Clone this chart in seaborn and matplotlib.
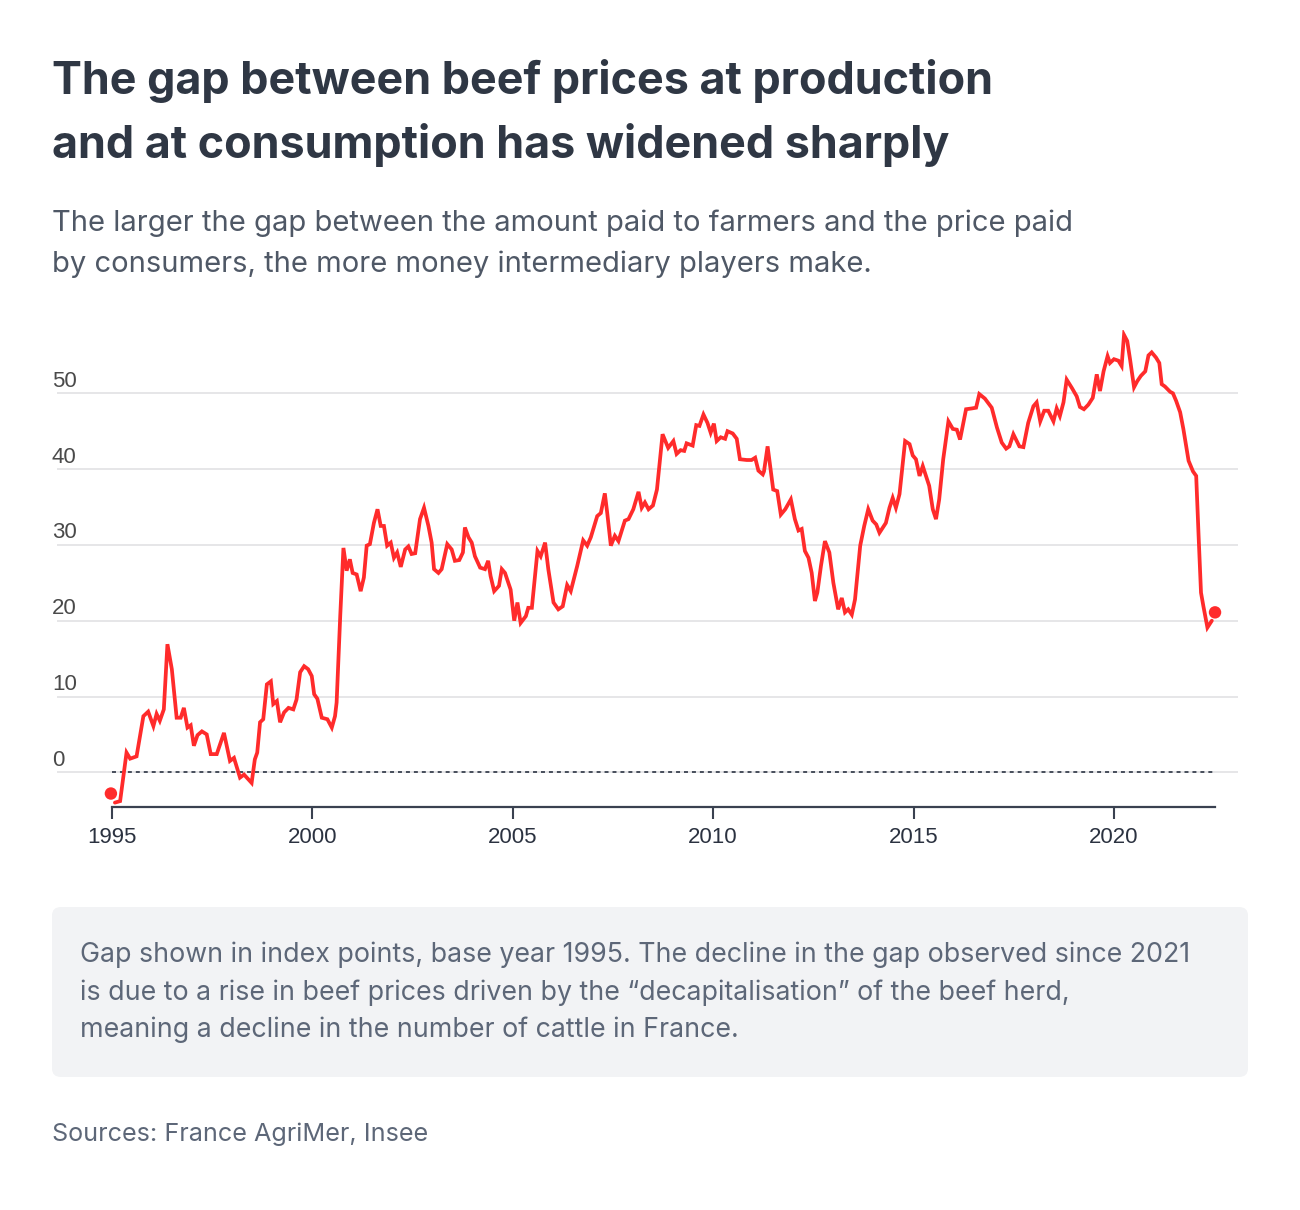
import numpy as np
import pandas as pd
import seaborn as sns
import matplotlib
matplotlib.use("Agg")
import matplotlib.pyplot as plt
from matplotlib.patches import FancyBboxPatch
from matplotlib.transforms import offset_copy

# ---------------- data ----------------
years = [
    1995.08, 1995.21, 1995.37, 1995.46, 1995.62, 1995.79, 1995.91, 1996.04, 1996.12, 1996.20,
    1996.30, 1996.39, 1996.50, 1996.62, 1996.72, 1996.80, 1996.89, 1996.97, 1997.05, 1997.14,
    1997.25, 1997.37, 1997.47, 1997.62, 1997.80, 1997.95, 1998.05, 1998.20, 1998.30, 1998.49,
    1998.57, 1998.63, 1998.70, 1998.78, 1998.87, 1998.97, 1999.03, 1999.12, 1999.20, 1999.30,
    1999.41, 1999.53, 1999.61, 1999.70, 1999.80, 1999.90, 1999.99, 2000.05, 2000.13, 2000.24,
    2000.38, 2000.49, 2000.57, 2000.61, 2000.70, 2000.78, 2000.86, 2000.94, 2001.01, 2001.11,
    2001.21, 2001.29, 2001.36, 2001.44, 2001.54, 2001.63, 2001.71, 2001.79, 2001.87, 2001.96,
    2002.04, 2002.12, 2002.21, 2002.32, 2002.40, 2002.48, 2002.57, 2002.69, 2002.79, 2002.90,
    2002.98, 2003.04, 2003.15, 2003.23, 2003.37, 2003.48, 2003.56, 2003.67, 2003.76, 2003.81,
    2003.90, 2003.98, 2004.06, 2004.19, 2004.31, 2004.39, 2004.45, 2004.54, 2004.66, 2004.73,
    2004.81, 2004.95, 2005.04, 2005.12, 2005.20, 2005.33, 2005.39, 2005.48, 2005.62, 2005.70,
    2005.81, 2005.89, 2006.02, 2006.14, 2006.25, 2006.36, 2006.45, 2006.61, 2006.76, 2006.86,
    2006.95, 2007.11, 2007.20, 2007.30, 2007.36, 2007.45, 2007.55, 2007.64, 2007.80, 2007.89,
    2008.01, 2008.14, 2008.22, 2008.30, 2008.39, 2008.50, 2008.60, 2008.66, 2008.74, 2008.88,
    2009.01, 2009.09, 2009.19, 2009.28, 2009.34, 2009.49, 2009.58, 2009.66, 2009.76, 2009.86,
    2009.94, 2010.02, 2010.09, 2010.19, 2010.30, 2010.36, 2010.49, 2010.59, 2010.67, 2010.84,
    2010.96, 2011.05, 2011.13, 2011.24, 2011.27, 2011.36, 2011.50, 2011.60, 2011.69, 2011.80,
    2011.94, 2012.04, 2012.13, 2012.21, 2012.29, 2012.38, 2012.46, 2012.54, 2012.60, 2012.69,
    2012.79, 2012.90, 2013.00, 2013.12, 2013.21, 2013.29, 2013.37, 2013.46, 2013.54, 2013.67,
    2013.77, 2013.87, 2013.98, 2014.07, 2014.15, 2014.31, 2014.40, 2014.48, 2014.56, 2014.65,
    2014.79, 2014.90, 2014.98, 2015.06, 2015.15, 2015.23, 2015.31, 2015.39, 2015.48, 2015.56,
    2015.64, 2015.74, 2015.87, 2015.98, 2016.08, 2016.16, 2016.31, 2016.45, 2016.56, 2016.64,
    2016.78, 2016.95, 2017.08, 2017.20, 2017.31, 2017.39, 2017.49, 2017.64, 2017.74, 2017.86,
    2017.99, 2018.07, 2018.16, 2018.26, 2018.36, 2018.49, 2018.57, 2018.65, 2018.74, 2018.82,
    2018.95, 2019.07, 2019.15, 2019.25, 2019.36, 2019.47, 2019.57, 2019.65, 2019.74, 2019.84,
    2019.90, 2020.00, 2020.11, 2020.19, 2020.25, 2020.33, 2020.40, 2020.50, 2020.58, 2020.67,
    2020.78, 2020.86, 2020.94, 2021.05, 2021.13, 2021.19, 2021.27, 2021.40, 2021.47, 2021.55,
    2021.65, 2021.73, 2021.86, 2021.97, 2022.05, 2022.11, 2022.17, 2022.23, 2022.33, 2022.44,
]
gap = [
    -4.0, -3.8, 2.6, 1.8, 2.1, 7.4, 8.0, 6.1, 7.7, 6.8,
    8.3, 16.9, 13.6, 7.2, 7.2, 8.5, 5.9, 6.2, 3.5, 4.9,
    5.4, 5.0, 2.4, 2.4, 5.2, 1.5, 1.9, -0.7, -0.3, -1.4,
    1.7, 2.6, 6.6, 7.0, 11.6, 12.0, 9.0, 9.4, 6.6, 7.9,
    8.5, 8.3, 9.6, 13.2, 14.0, 13.6, 12.7, 10.3, 9.7, 7.2,
    7.0, 5.9, 7.4, 9.2, 20.6, 29.6, 26.6, 28.1, 26.3, 26.1,
    23.9, 25.7, 29.9, 30.1, 32.9, 34.7, 32.5, 32.5, 29.9, 30.3,
    28.3, 29.0, 27.1, 29.4, 29.8, 28.8, 28.9, 33.4, 34.9, 32.5,
    30.3, 26.8, 26.3, 26.8, 30.1, 29.4, 27.9, 28.0, 29.0, 32.3,
    31.0, 30.3, 28.5, 27.0, 26.8, 27.9, 25.9, 23.9, 24.6, 26.8,
    26.3, 24.1, 20.0, 22.4, 19.7, 20.6, 21.7, 21.7, 29.2, 28.5,
    30.3, 26.8, 22.4, 21.5, 21.9, 24.7, 23.9, 27.2, 30.6, 29.9,
    31.0, 33.8, 34.2, 36.8, 34.2, 29.9, 31.2, 30.5, 33.2, 33.4,
    34.7, 37.0, 34.9, 35.6, 34.7, 35.2, 37.3, 40.4, 44.6, 42.8,
    43.7, 42.0, 42.5, 42.4, 43.4, 43.1, 45.8, 45.7, 47.2, 46.1,
    44.8, 46.0, 43.7, 44.2, 44.0, 45.0, 44.7, 44.0, 41.3, 41.2,
    41.2, 41.5, 39.8, 39.3, 39.7, 43.0, 37.3, 37.1, 34.0, 34.7,
    36.0, 33.4, 31.9, 32.1, 29.2, 28.3, 26.3, 22.6, 23.7, 27.2,
    30.5, 29.0, 25.0, 21.5, 23.0, 21.1, 21.5, 20.8, 22.8, 29.9,
    32.5, 34.7, 33.2, 32.7, 31.6, 32.9, 34.9, 36.2, 34.9, 36.7,
    43.7, 43.3, 41.8, 41.3, 39.1, 40.4, 39.1, 37.8, 34.7, 33.4,
    36.0, 41.3, 46.3, 45.3, 45.2, 43.9, 47.9, 48.0, 48.1, 49.9,
    49.3, 48.1, 45.5, 43.5, 42.7, 43.0, 44.6, 43.0, 42.9, 46.1,
    48.3, 48.8, 46.3, 47.7, 47.7, 46.3, 48.0, 47.0, 48.8, 51.8,
    50.7, 49.6, 48.2, 47.9, 48.5, 49.4, 52.5, 50.3, 52.9, 54.9,
    54.0, 54.5, 54.3, 53.6, 57.7, 56.9, 54.5, 50.8, 51.6, 52.3,
    52.9, 55.0, 55.4, 54.7, 54.0, 51.2, 50.9, 50.2, 50.0, 49.0,
    47.5, 45.3, 41.1, 39.7, 39.1, 31.2, 23.7, 21.9, 19.1, 20.0,
]
dot_years = [1994.98, 2022.52]
dot_values = [-2.8, 21.1]
x_ticks = [1995, 2000, 2005, 2010, 2015, 2020]
y_ticks = [0, 10, 20, 30, 40, 50]

TITLE = ["The gap between beef prices at production",
         "and at consumption has widened sharply"]
SUBTITLE = ["The larger the gap between the amount paid to farmers and the price paid",
            "by consumers, the more money intermediary players make."]
NOTE = ["Gap shown in index points, base year 1995. The decline in the gap observed since 2021",
        "is due to a rise in beef prices driven by the \u201cdecapitalisation\u201d of the beef herd,",
        "meaning a decline in the number of cattle in France."]
SOURCE = "Sources: France AgriMer, Insee"

# ---------------- style ----------------
RED = "#ff2b2b"
NAVY = "#2f3744"
GREYTXT = "#4f5866"
NOTETXT = "#5d6778"
W, H = 1300, 1210

sns.set_theme(style="white")
plt.rcParams["font.family"] = ["Inter", "DejaVu Sans"]

fig = plt.figure(figsize=(W / 100, H / 100), dpi=100)
fig.patch.set_facecolor("white")

# axes in pixel geometry
ax_l, ax_r, ax_t, ax_b = 57, 1238, 330, 806.7
ax = fig.add_axes([ax_l / W, 1 - ax_b / H, (ax_r - ax_l) / W, (ax_b - ax_t) / H])
ax.set_facecolor("white")

df = pd.DataFrame({"year": years, "gap": gap})
sns.lineplot(data=df, x="year", y="gap", ax=ax, color=RED, linewidth=2.7,
             solid_joinstyle="miter", zorder=4)
sns.scatterplot(x=dot_years, y=dot_values, ax=ax, color=RED, s=80,
                edgecolor="none", zorder=5, clip_on=False)

# limits from pixel geometry: 1995 -> 111.7 px, 2020 -> 1114 px; 0 -> 772.3, 50 -> 393.3
ppy = (1114 - 111.7) / 25.0
ax.set_xlim(1995 + (ax_l - 111.7) / ppy, 1995 + (ax_r - 111.7) / ppy)
ppu = (772.3 - 393.3) / 50.0
ax.set_ylim(-(ax_b - 772.3) / ppu, (772.3 - ax_t) / ppu)

# grid
ax.set_yticks(y_ticks)
ax.yaxis.grid(True, color="#e4e4e6", linewidth=1.3, zorder=0)
ax.xaxis.grid(False)
ax.tick_params(axis="y", length=0, labelleft=False)

# dotted zero line over data range
ax.hlines(0, x_ticks[0], dot_years[-1], colors="#3a4150", linewidth=1.3,
          linestyles=(0, (2.2, 2.2)), zorder=3)

# y labels above the gridlines
ytrans = offset_copy(ax.get_yaxis_transform(), fig=fig, x=0, y=6.5, units="dots")
for v in y_ticks:
    ax.text((52 - ax_l) / (ax_r - ax_l), v, str(v), transform=ytrans,
            ha="left", va="baseline", fontsize=16, color="#4a4a4a",
            family=["Liberation Sans", "DejaVu Sans"])

# spines / x axis
for s in ["left", "right", "top"]:
    ax.spines[s].set_visible(False)
ax.spines["bottom"].set_bounds(x_ticks[0], dot_years[-1])
ax.spines["bottom"].set_color("#3a4150")
ax.spines["bottom"].set_linewidth(1.6)
ax.set_xticks(x_ticks)
ax.set_xticklabels([str(t) for t in x_ticks], family=["Liberation Sans", "DejaVu Sans"])
ax.tick_params(axis="x", direction="out", length=8.5, width=1.5, color="#3a4150",
               labelsize=16, labelcolor="#2b3240", pad=6, bottom=True)
ax.set_xlabel("")
ax.set_ylabel("")

# ---------------- text ----------------
def fig_text(px, py, s, **kw):
    return fig.text(px / W, 1 - py / H, s, va="baseline", ha="left", **kw)

def fit(txts, target_w):
    fig.canvas.draw()
    r = fig.canvas.get_renderer()
    for _ in range(3):
        w = txts[0].get_window_extent(r).width
        f = txts[0].get_fontsize() * target_w / w
        for t in txts:
            t.set_fontsize(f)
        fig.canvas.draw()

t1 = fig_text(52, 94, TITLE[0], fontsize=34, weight="bold", color=NAVY)
t2 = fig_text(52, 158, TITLE[1], fontsize=34, weight="bold", color=NAVY)
fit([t1, t2], 993 - 52)

s1 = fig_text(52, 231, SUBTITLE[0], fontsize=21, color=GREYTXT)
s2 = fig_text(52, 272, SUBTITLE[1], fontsize=21, color=GREYTXT)
fit([s1, s2], 1073 - 52)

box = FancyBboxPatch((52 / W, 1 - 1077 / H), (1248 - 52) / W, (1077 - 907) / H,
                     boxstyle="round,pad=0,rounding_size=0.007",
                     transform=fig.transFigure, facecolor="#f2f3f5",
                     edgecolor="none", zorder=0)
fig.patches.append(box)

n1 = fig_text(80, 962, NOTE[0], fontsize=19, color=NOTETXT)
n2 = fig_text(80, 1000, NOTE[1], fontsize=19, color=NOTETXT)
n3 = fig_text(80, 1037, NOTE[2], fontsize=19, color=NOTETXT)
fit([n1, n2, n3], 1185 - 80)

src = fig_text(52, 1141, SOURCE, fontsize=19, color=NOTETXT)
fit([src], 428 - 52)

fig.savefig("out.png", dpi=100, facecolor="white")
